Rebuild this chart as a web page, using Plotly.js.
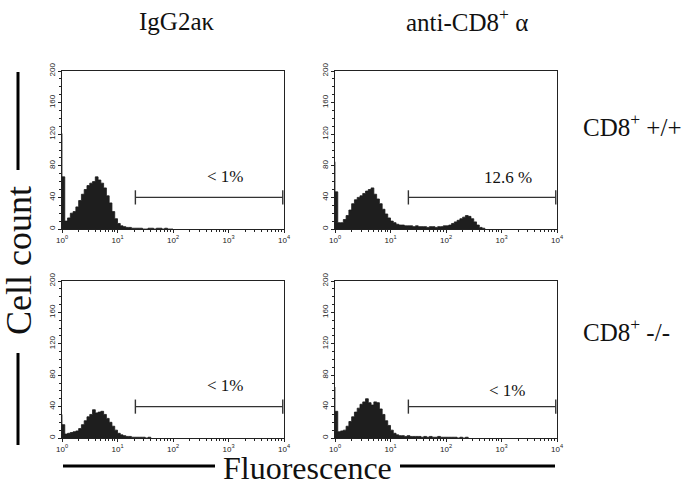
<!DOCTYPE html>
<html>
<head>
<meta charset="utf-8">
<script src="https://cdn.plot.ly/plotly-3.0.1.min.js"></script>
<style>html,body{margin:0;padding:0;background:#fff;}#chart{width:683px;height:499px;}</style>
</head>
<body>
<div id="chart"></div>
<script>
// Fluorescence channel positions (decades, log10 of intensity)
const logChannel = [0.00,0.05,0.10,0.15,0.20,0.25,0.30,0.35,0.40,0.45,0.50,0.55,0.60,0.65,0.70,0.75,0.80,0.85,0.90,0.95,
  1.00,1.05,1.10,1.15,1.20,1.25,1.30,1.35,1.40,1.45,1.50,1.55,1.60,1.65,1.70,1.75,1.80,1.85,1.90,1.95,
  2.00,2.05,2.10,2.15,2.20,2.25,2.30,2.35,2.40,2.45,2.50,2.55,2.60,2.65,2.70];

// Cell counts per channel
const iggWildType = [66,10,14,20,22,28,36,44,50,55,58,60,66,62,58,52,42,33,22,13,7,4,3,2,2,1,1,1,1,0,0,1,1,0,1,1,0,1,0,0,0];
const cd8WildType = [47,8,8,12,17,24,32,37,40,42,45,48,50,52,44,38,32,25,19,14,10,8,6,5,5,4,4,4,3,4,3,3,3,2,3,3,2,3,3,4,4,5,7,9,11,13,15,17,16,13,9,5,2,1,0];
const iggKnockout = [17,5,6,7,8,9,12,17,22,27,30,36,32,33,34,30,25,20,15,10,6,4,3,2,2,1,1,1,1,1,0,1,0];
const cd8Knockout = [34,8,9,10,15,21,27,33,38,43,46,50,45,42,46,45,37,30,22,16,10,6,4,3,3,2,3,2,2,2,2,1,2,1,2,1,1,2,1,1,1,1,1,1,0,1,0,1,0];

// Off-scale first-channel events (gray spike at 10^0)
const spikeCounts = [121, 85, 30, 65];

// Gate (marker) settings
const gateLow = 21, gateHigh = 9500, gateCount = 40;
const gateLabels = ["< 1%", "12.6 %", "< 1%", "< 1%"];

// Column / row labels
const columnLabels = ["IgG2aκ", "anti-CD8<sup>+</sup> α"];
const rowLabels = ["CD8<sup>+</sup> +/+", "CD8<sup>+</sup> -/-"];
const tickLabels = ["10<sup>0</sup>","10<sup>1</sup>","10<sup>2</sup>","10<sup>3</sup>","10<sup>4</sup>"];
const tickValues = [1,10,100,1000,10000];

const series = [iggWildType, cd8WildType, iggKnockout, cd8Knockout];

const traces = [];
series.forEach((vals, i) => {
  const n = i + 1;
  const xa = 'x' + (n === 1 ? '' : n), ya = 'y' + (n === 1 ? '' : n);
  const xs = logChannel.slice(0, vals.length).map(v => Math.pow(10, v));
  traces.push({x:[1,1], y:[0, spikeCounts[i]], xaxis:xa, yaxis:ya, mode:'lines',
    line:{color:'#8a8a8a', width:1.5}, hoverinfo:'skip'});
  traces.push({x:xs, y:vals, xaxis:xa, yaxis:ya, mode:'lines', line:{shape:'hv', color:'#1a1a1a', width:0.8},
    fill:'tozeroy', fillcolor:'#1e1e1e'});
  traces.push({x:[gateLow,gateLow,null,gateLow,gateHigh,null,gateHigh,gateHigh],
    y:[gateCount-9,gateCount+9,null,gateCount,gateCount,null,gateCount-9,gateCount+9],
    xaxis:xa, yaxis:ya, mode:'lines', line:{color:'#333', width:1.4}, hoverinfo:'skip'});
});

const minorVals = [];
[1,10,100,1000].forEach(d => { for (let k = 2; k <= 9; k++) minorVals.push(k*d); });

const W = 683, H = 499;
const colDom = [[62/W, 284/W], [335/W, 557/W]];
const rowDom = [[1-229/H, 1-71/H], [1-438/H, 1-281/H]];

function xax(col, yname){
  return {type:'log', domain:colDom[col], range:[0,4], anchor:yname, showgrid:false, zeroline:false,
    showline:true, linecolor:'#222', linewidth:1, mirror:true, ticks:'outside', ticklen:3, tickwidth:1, tickcolor:'#222',
    tickmode:'array', tickvals:tickValues, ticktext:tickLabels,
    tickfont:{family:'Liberation Sans, Arial', size:8, color:'#222'},
    minor:{tickmode:'array', tickvals:minorVals, ticks:'outside', ticklen:2, tickcolor:'#222', tickwidth:1},
    layer:'below traces'};
}
function yax(row, xname){
  return {domain:rowDom[row], range:[0,200], anchor:xname, showgrid:false, zeroline:false,
    showline:true, linecolor:'#222', linewidth:1, mirror:true, ticks:'outside', ticklen:3, tickwidth:1, tickcolor:'#222',
    tickmode:'linear', tick0:0, dtick:40, tickangle:-90,
    tickfont:{family:'Liberation Sans, Arial', size:8, color:'#222'},
    minor:{dtick:10, ticks:'outside', ticklen:2, tickcolor:'#222', tickwidth:1},
    layer:'below traces'};
}

const serif = 'Liberation Serif, Times New Roman, serif';
function pAnn(text, px, py, size, extra){
  return Object.assign({text:text, x:px/W, y:1-py/H, xref:'paper', yref:'paper', xanchor:'center', yanchor:'middle',
    showarrow:false, borderpad:0, font:{family:serif, size:size, color:'#111'}}, extra || {});
}
const annotations = [
  pAnn(columnLabels[0], 176, 21, 25),
  pAnn(columnLabels[1], 467, 20, 25),
  pAnn(rowLabels[0], 582, 125, 25, {xanchor:'left'}),
  pAnn(rowLabels[1], 582, 330, 25, {xanchor:'left'}),
  pAnn('Cell count', 19, 261, 36, {textangle:-90}),
  pAnn('Fluorescence', 307, 468, 32),
  {text:gateLabels[0], x:Math.log10(890), y:66, xref:'x', yref:'y', showarrow:false, font:{family:serif, size:17, color:'#111'}},
  {text:gateLabels[1], x:Math.log10(1320), y:65, xref:'x2', yref:'y2', showarrow:false, font:{family:serif, size:17, color:'#111'}},
  {text:gateLabels[2], x:Math.log10(890), y:67, xref:'x3', yref:'y3', showarrow:false, font:{family:serif, size:17, color:'#111'}},
  {text:gateLabels[3], x:Math.log10(1260), y:61, xref:'x4', yref:'y4', showarrow:false, font:{family:serif, size:17, color:'#111'}}
];

const shapes = [
  {type:'line', xref:'paper', yref:'paper', x0:18/W, x1:18/W, y0:1-72/H, y1:1-170/H, line:{color:'#000', width:3}},
  {type:'line', xref:'paper', yref:'paper', x0:18/W, x1:18/W, y0:1-353/H, y1:1-445/H, line:{color:'#000', width:3}},
  {type:'line', xref:'paper', yref:'paper', x0:63/W, x1:215/W, y0:1-466/H, y1:1-466/H, line:{color:'#000', width:3}},
  {type:'line', xref:'paper', yref:'paper', x0:400/W, x1:555/W, y0:1-466/H, y1:1-466/H, line:{color:'#000', width:3}}
];

const layout = {
  width:W, height:H, margin:{l:0,r:0,t:0,b:0}, showlegend:false,
  paper_bgcolor:'#fff', plot_bgcolor:'#fff',
  xaxis:xax(0,'y'), yaxis:yax(0,'x'),
  xaxis2:xax(1,'y2'), yaxis2:yax(0,'x2'),
  xaxis3:xax(0,'y3'), yaxis3:yax(1,'x3'),
  xaxis4:xax(1,'y4'), yaxis4:yax(1,'x4'),
  annotations:annotations, shapes:shapes
};

Plotly.newPlot('chart', traces, layout, {staticPlot:true, displayModeBar:false});
</script>
</body>
</html>
